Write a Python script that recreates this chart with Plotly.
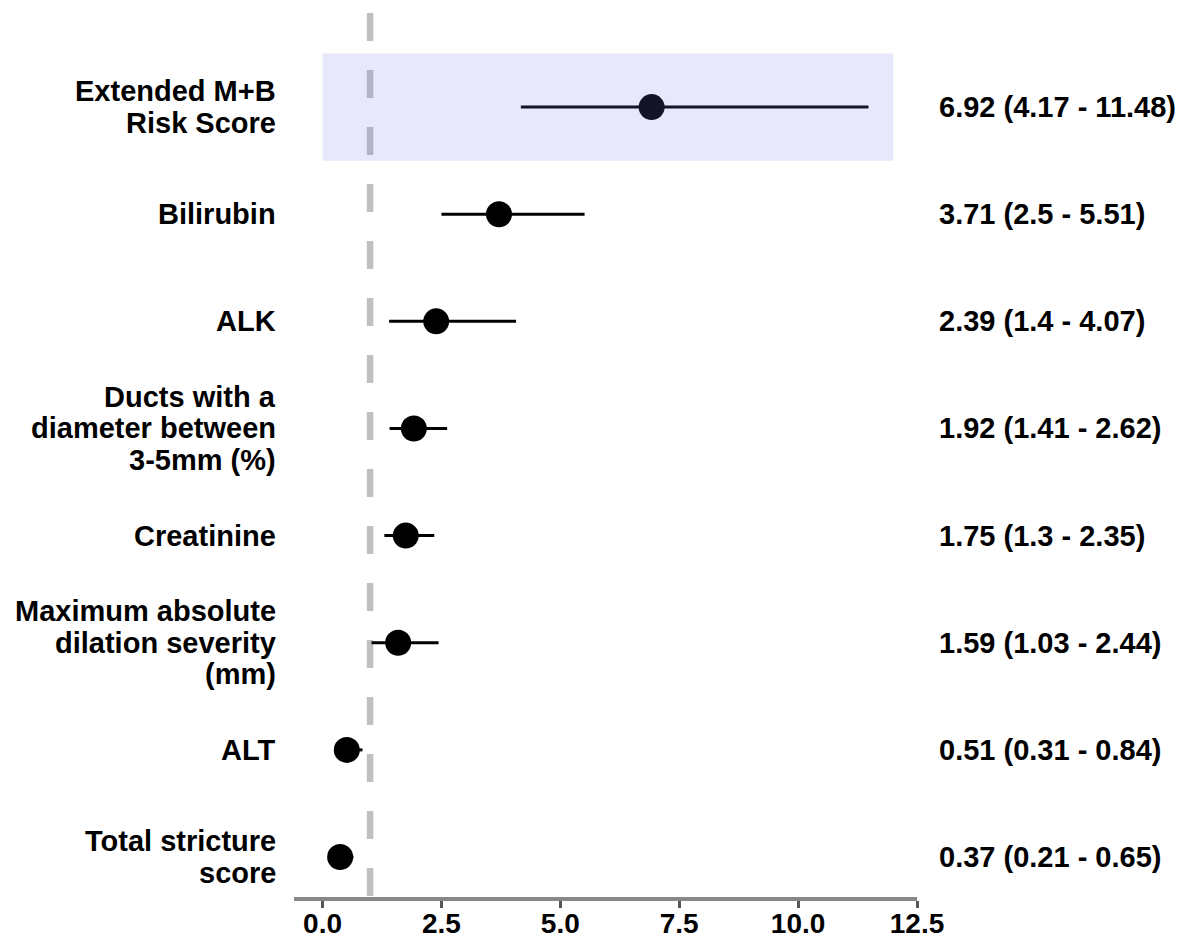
import plotly.graph_objects as go

# ---- data (top to bottom) ----
labels = [
    "Extended M+B<br>Risk Score",
    "Bilirubin",
    "ALK",
    "Ducts with a<br>diameter between<br>3-5mm (%)",
    "Creatinine",
    "Maximum absolute<br>dilation severity<br>(mm)",
    "ALT",
    "Total stricture<br>score",
]
hr = [6.92, 3.71, 2.39, 1.92, 1.75, 1.59, 0.51, 0.37]
ci_low = [4.17, 2.5, 1.4, 1.41, 1.3, 1.03, 0.31, 0.21]
ci_high = [11.48, 5.51, 4.07, 2.62, 2.35, 2.44, 0.84, 0.65]
x_ticks = [0.0, 2.5, 5.0, 7.5, 10.0, 12.5]
ref_line = 1.0
highlight_row = 0
highlight_x = [0.0, 12.0]

n = len(labels)
ypos = [n - 1 - i for i in range(n)]

FONT = "Liberation Sans, Arial, sans-serif"
FS = 29

fig = go.Figure()
fig.add_trace(go.Scatter(
    x=hr, y=ypos, mode="markers",
    marker=dict(color="black", size=26, line=dict(width=0)),
    error_x=dict(type="data", symmetric=False,
                 array=[h - m for h, m in zip(ci_high, hr)],
                 arrayminus=[m - l for m, l in zip(hr, ci_low)],
                 color="black", thickness=3, width=0),
    hoverinfo="skip", showlegend=False,
))

# reference dashed line
fig.add_shape(type="line", xref="x", yref="paper", x0=ref_line, x1=ref_line,
              y0=1, y1=0, line=dict(color="#c0c0c0", width=6.5, dash="28px,29px"),
              layer="below")
# highlight box
hy = ypos[highlight_row]
fig.add_shape(type="rect", xref="x", yref="y", x0=highlight_x[0], x1=highlight_x[1],
              y0=hy - 0.5, y1=hy + 0.5, fillcolor="rgba(120,120,230,0.17)",
              line=dict(width=0), layer="above")

LS = 31.7
for lab, y, h, lo, hi in zip(labels, ypos, hr, ci_low, ci_high):
    lines = lab.split("<br>")
    k = len(lines)
    for j, ln in enumerate(lines):
        fig.add_annotation(x=0, xref="paper", y=y, yref="y", text=ln,
                           showarrow=False, xanchor="right", yanchor="middle",
                           xshift=-16, yshift=((k - 1) / 2 - j) * LS,
                           font=dict(family=FONT, size=FS, color="black", weight="bold"))
    fig.add_annotation(x=1, xref="paper", y=y, yref="y",
                       text=f"{h} ({lo} - {hi})",
                       showarrow=False, xanchor="left", yanchor="middle", xshift=20,
                       font=dict(family=FONT, size=FS, color="black", weight="bold"))

fig.update_layout(
    width=1190, height=940,
    margin=dict(l=294, r=273.3, t=13, b=43.3, pad=0, autoexpand=False),
    plot_bgcolor="white", paper_bgcolor="white",
    xaxis=dict(range=[-0.6, 12.5], tickvals=x_ticks,
               ticktext=[f"{v:.1f}" for v in x_ticks],
               automargin=False,
               showgrid=False, zeroline=False, showline=True,
               linecolor="#888888", linewidth=3.5,
               ticks="outside", ticklen=7, tickwidth=3, tickcolor="#555555",
               ticklabelstandoff=-8,
               tickfont=dict(family=FONT, size=28, color="black", weight="bold")),
    yaxis=dict(range=[-0.373, n - 1 + 0.878], showgrid=False, zeroline=False,
               automargin=False,
               showline=False, showticklabels=False, ticks=""),
)

fig.write_html("out.html")
